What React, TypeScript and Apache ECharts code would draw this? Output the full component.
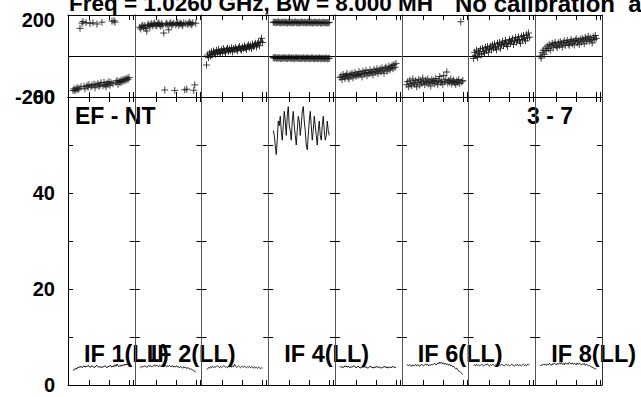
import React, { useEffect, useRef } from 'react';
import * as echarts from 'echarts';

// ---------- data ----------
const CHANNELS = [4, 5, 6, 7, 8, 9, 10, 11, 12, 13, 14, 15, 16, 17, 18, 19, 20, 21, 22, 23, 24, 25, 26, 27, 28, 29, 30, 31, 32, 33, 34, 35, 36, 37, 38, 39, 40, 41, 42, 43, 44, 45, 46, 47, 48, 49, 50, 51, 52, 53, 54, 55, 56, 57, 58, 59, 60];

const X_TICKS = [20, 40, 60, 64];
const PHASE_LABELS = [-200, 200];
const AMP_LABELS = [0, 20, 40, 60];

const PHASE_IF1 = [-168, -160, -170, -162, -155, -165, -158, 135, -150, 160, 168, -148, -160, 163, -145, -152, -140, 158, -150, -143, 162, -138, -155, -140, 156, -135, -148, -142, -130, 165, -145, -128, -140, -150, -132, -138, -125, -143, -130, 170, -135, 172, 165, -128, -120, -138, -124, -130, -118, -126, -115, -122, -112, -118, -108, -114, -105];
const PHASE_IF2 = [140, 132, 145, 150, 138, 148, 135, 122, 150, 155, 143, 152, 158, 147, 155, 160, 150, 148, 157, 162, 153, 145, 158, 150, 112, -166, 155, 160, 152, 128, 157, 162, 150, 155, 160, -168, 152, 158, 163, 150, 157, 160, 155, 148, 162, -165, 158, -162, 153, 160, 165, 157, 152, 162, -167, -141, 160];
const PHASE_IF3 = [-44, 5, -8, 14, 0, 20, 6, 24, 15, 8, 28, 16, 32, 20, 12, 30, 18, 36, 25, 15, 32, 38, 22, 34, 26, 40, 20, 37, 30, 42, 33, 25, 40, 46, 34, 28, 44, 36, 50, 40, 32, 48, 54, 42, 50, 36, 58, 46, 54, 62, 44, 58, 66, 50, 72, 86, 66];
const PHASE_IF4_A = [165, 163, 166, 162, 164, 167, 163, 161, 165, 164, 162, 166, 163, 165, 160, 164, 166, 162, 163, 165, 161, 164, 167, 163, 162, 165, 160, 163, 166, 164, 162, 165, 163, 161, 164, 166, 162, 163, 165, 160, 164, 162, 166, 163, 161, 164, 165, 162, 160, 163, 165, 162, 164, 161, 163, 162, 164];
const PHASE_IF4_B = [-8, -10, -7, -12, -9, -11, -8, -13, -10, -9, -12, -7, -11, -10, -13, -9, -8, -12, -10, -11, -9, -14, -10, -8, -12, -11, -9, -13, -10, -12, -8, -11, -14, -10, -9, -12, -11, -13, -10, -9, -12, -14, -11, -10, -13, -12, -9, -11, -14, -10, -12, -13, -11, -10, -14, -12, -11];
const PHASE_IF5 = [-105, -98, -115, -90, -100, -110, -95, -86, -104, -112, -90, -97, -84, -106, -93, -80, -99, -88, -95, -76, -90, -84, -102, -74, -88, -82, -70, -96, -80, -86, -68, -83, -76, -92, -66, -80, -74, -62, -86, -72, -64, -78, -58, -70, -84, -60, -54, -74, -64, -50, -68, -56, -46, -62, -42, -55, -36];
const PHASE_IF6 = [-140, -125, -150, -118, -135, -145, -112, -130, -138, -120, -150, -128, -115, -142, -122, -133, -108, -126, -140, -118, -130, -112, -136, -124, -146, -116, -128, -120, -135, -110, -125, -140, -118, -100, -130, -122, -138, -95, -126, -115, -78, -132, -120, -128, -112, -136, -124, -118, -130, -140, -122, -128, -115, -134, 167, -126, -120];
const PHASE_IF7 = [-12, 18, 4, 28, -8, 22, 12, 34, 6, 38, 22, 14, 42, 28, 46, 18, 36, 48, 30, 54, 38, 58, 42, 30, 62, 48, 66, 38, 56, 72, 50, 62, 76, 58, 46, 68, 80, 62, 72, 84, 56, 74, 90, 68, 80, 92, 74, 62, 96, 80, 100, 84, 74, 104, 88, 112, 92];
const PHASE_IF8 = [0, -10, 16, 28, 8, 38, 26, 48, 36, 56, 28, 50, 62, 40, 58, 66, 48, 42, 64, 50, 70, 58, 44, 64, 74, 52, 66, 76, 58, 52, 70, 80, 60, 72, 54, 76, 84, 64, 74, 56, 82, 68, 86, 78, 60, 90, 72, 82, 96, 72, 88, 78, 64, 92, 80, 100, 86];

const AMP_IF1 = [3.0, 3.2, 3.4, 3.3, 3.6, 3.5, 3.8, 3.7, 3.9, 3.6, 3.8, 4.0, 3.7, 3.9, 3.8, 4.1, 3.9, 3.7, 3.8, 4.0, 3.9, 3.6, 3.8, 3.9, 4.1, 3.8, 3.7, 3.9, 3.6, 3.8, 3.7, 3.9, 4.0, 3.8, 3.6, 3.9, 3.8, 4.1, 3.9, 3.7, 4.0, 3.8, 4.2, 3.9, 4.4, 4.0, 3.8, 4.1, 3.9, 4.2, 4.0, 4.3, 4.1, 4.4, 4.2, 4.3, 4.2];
const AMP_IF2 = [3.6, 3.8, 3.7, 3.9, 3.8, 4.0, 3.9, 3.7, 3.8, 4.1, 3.9, 4.0, 3.8, 3.9, 4.0, 4.2, 3.9, 4.1, 4.0, 3.8, 4.1, 3.9, 4.0, 4.2, 4.0, 3.9, 4.1, 3.8, 4.0, 3.9, 4.1, 3.8, 3.9, 4.0, 3.7, 3.9, 3.8, 4.0, 3.7, 3.8, 3.6, 3.9, 3.7, 3.5, 3.8, 3.6, 3.7, 3.4, 3.6, 3.5, 3.3, 3.4, 3.2, 3.1, 3.0, 2.8, 2.7];
const AMP_IF3 = [3.2, 3.4, 3.6, 3.5, 3.8, 3.7, 3.9, 3.6, 3.8, 3.7, 3.9, 4.0, 3.8, 3.6, 3.9, 3.7, 3.8, 4.0, 3.9, 3.7, 3.8, 3.6, 3.9, 3.8, 4.0, 3.7, 3.9, 3.8, 4.3, 3.9, 3.7, 3.8, 4.0, 3.8, 3.6, 3.8, 3.9, 3.7, 3.9, 3.8, 3.6, 3.8, 3.7, 3.9, 3.6, 3.8, 3.7, 3.5, 3.8, 3.6, 3.7, 3.5, 3.7, 3.6, 3.4, 3.6, 3.5];
const AMP_IF4 = [53, 52, 50, 48, 51, 55, 54, 56, 53, 51, 54, 57, 55, 52, 56, 58, 54, 53, 51, 55, 57, 54, 52, 50, 53, 56, 55, 52, 54, 57, 58, 55, 53, 50, 49, 52, 55, 57, 54, 51, 53, 56, 54, 52, 50, 53, 55, 52, 51, 54, 56, 53, 51, 52, 55, 53, 52];
const AMP_IF5 = [3.9, 3.7, 3.8, 3.6, 3.9, 3.8, 4.0, 3.7, 3.9, 3.8, 3.6, 3.8, 3.7, 3.9, 4.0, 3.8, 3.6, 3.7, 3.9, 3.8, 3.5, 3.7, 3.8, 3.6, 3.9, 3.7, 3.8, 3.6, 3.5, 3.7, 3.9, 3.8, 3.6, 3.7, 3.5, 3.8, 3.7, 3.9, 3.6, 3.8, 3.7, 3.5, 3.6, 3.8, 3.7, 3.9, 3.6, 3.8, 3.5, 3.7, 3.8, 3.6, 3.7, 3.9, 3.7, 3.6, 3.8];
const AMP_IF6 = [4.1, 4.2, 4.0, 4.2, 4.1, 3.9, 4.2, 4.0, 4.1, 4.3, 4.0, 4.2, 4.1, 3.9, 4.2, 4.3, 4.1, 4.0, 4.2, 4.4, 4.1, 4.3, 4.0, 4.2, 4.1, 4.3, 4.2, 4.4, 4.5, 4.2, 4.3, 4.6, 4.4, 4.8, 4.5, 4.7, 4.4, 4.6, 4.3, 4.5, 4.2, 4.4, 4.1, 4.3, 4.0, 4.1, 3.8, 3.9, 3.6, 3.4, 3.5, 3.1, 2.9, 2.8, 2.6, 2.4, 2.2];
const AMP_IF7 = [4.1, 4.2, 4.0, 4.3, 4.1, 4.2, 4.0, 4.1, 4.3, 4.2, 4.0, 4.1, 4.3, 4.2, 4.4, 4.1, 4.0, 4.2, 4.1, 4.3, 4.2, 4.0, 4.2, 4.1, 4.3, 4.0, 4.2, 4.1, 4.3, 4.2, 4.1, 4.0, 4.2, 4.3, 4.1, 4.2, 4.0, 4.1, 4.3, 4.2, 4.1, 4.0, 4.2, 4.1, 4.3, 4.0, 4.2, 4.1, 4.0, 4.2, 4.3, 4.1, 4.2, 4.0, 4.3, 4.2, 4.4];
const AMP_IF8 = [4.0, 4.2, 4.1, 4.3, 4.2, 4.4, 4.1, 4.3, 4.2, 4.5, 4.3, 4.1, 4.4, 4.3, 4.6, 4.4, 4.2, 4.5, 4.3, 4.6, 4.4, 4.7, 4.3, 4.5, 4.2, 4.6, 4.4, 4.5, 4.3, 4.7, 4.5, 4.4, 4.6, 4.3, 4.5, 4.4, 4.2, 4.6, 4.3, 4.5, 4.4, 4.2, 4.4, 4.3, 4.5, 4.1, 4.3, 4.2, 4.0, 4.1, 3.9, 3.8, 3.7, 3.6, 3.5, 3.4, 3.3];

const PHASES = [PHASE_IF1, PHASE_IF2, PHASE_IF3, PHASE_IF4_A, PHASE_IF5, PHASE_IF6, PHASE_IF7, PHASE_IF8];
const EXTRA_PHASE: Record<number, number[]> = { 3: PHASE_IF4_B };
const AMPS = [AMP_IF1, AMP_IF2, AMP_IF3, AMP_IF4, AMP_IF5, AMP_IF6, AMP_IF7, AMP_IF8];
const IF_LABELS = ['IF 1(LL)', 'IF 2(LL)', '', 'IF 4(LL)', '', 'IF 6(LL)', '', 'IF 8(LL)'];
const TITLE_A = 'Freq = 1.0260 GHz, Bw = 8.000 MH';
const TITLE_B = 'No calibration  applied';
const LEFT_NOTE = 'EF - NT';
const RIGHT_NOTE = '3 - 7';

// ---------- layout ----------
const FONT = "'Liberation Sans', Arial, sans-serif";
const PANEL_LEFT = 68;
const PANEL_W = 66.75;
const TOP_Y = 15;
const TOP_H = 82;
const BOT_H = 288;
const SEP = '#555';
const PLUS = 'path://M4,0L4,8M0,4L8,4';

function pairs(vals: number[]) {
  return vals.map((v, k) => [CHANNELS[k], v]);
}

function buildOption() {
  const n = PHASES.length;
  const grid: any[] = [];
  const xAxis: any[] = [];
  const yAxis: any[] = [];
  const series: any[] = [];

  const xAx = (gridIndex: number, position: string) => ({
    type: 'value', gridIndex, position, min: -1, max: 65.75,
    axisLine: { show: true, onZero: false, lineStyle: { color: '#000', width: 1 } },
    axisTick: { show: true, inside: true, length: 5, customValues: X_TICKS, lineStyle: { color: '#000', width: 1 } },
    axisLabel: { show: false },
    splitLine: { show: false },
  });

  for (let part = 0; part < 2; part++) {
    for (let i = 0; i < n; i++) {
      const g = part * n + i;
      const isTop = part === 0;
      grid.push({
        left: PANEL_LEFT + i * PANEL_W, width: PANEL_W,
        top: isTop ? TOP_Y : TOP_Y + TOP_H, height: isTop ? TOP_H : BOT_H,
        outerBoundsMode: 'none', containLabel: false,
      });
      xAxis.push(xAx(g, 'bottom'));
      xAxis.push(xAx(g, 'top'));
      const first = i === 0;
      const labelStyle = {
        show: first, fontSize: 20, fontWeight: 'bold', color: '#000', fontFamily: FONT, margin: 13,
      };
      if (isTop) {
        yAxis.push({
          type: 'value', gridIndex: g, position: 'left', min: -200, max: 200, interval: 200,
          axisLine: { show: true, onZero: false, lineStyle: { color: first ? '#000' : SEP } },
          axisTick: { show: false },
          axisLabel: {
            ...labelStyle,
            formatter: (v: number) => (PHASE_LABELS.includes(v) ? (v > 0 ? '{t|' + v + '}' : String(v)) : ''),
            rich: { t: { fontSize: 20, fontWeight: 'bold', fontFamily: FONT, color: '#000', padding: [10, 0, 0, 0] } },
          },
          splitLine: { show: true, lineStyle: { color: '#000', width: 1 } },
        });
        yAxis.push({
          type: 'value', gridIndex: g, position: 'right', min: -200, max: 200, interval: 200,
          axisLine: { show: true, onZero: false, lineStyle: { color: i === n - 1 ? '#333' : SEP } },
          axisTick: { show: false }, axisLabel: { show: false }, splitLine: { show: false },
        });
        const groups = [PHASES[i]].concat(EXTRA_PHASE[i] ? [EXTRA_PHASE[i]] : []);
        groups.forEach((vals) => {
          series.push({
            type: 'scatter', xAxisIndex: 2 * g, yAxisIndex: 2 * g,
            symbol: PLUS, symbolSize: 7,
            itemStyle: { color: '#111', borderColor: '#111', borderWidth: 1 },
            data: pairs(vals), silent: true,
          });
        });
      } else {
        const tick = { show: true, inside: true, length: 5, lineStyle: { color: '#000', width: 1 } };
        yAxis.push({
          type: 'value', gridIndex: g, position: 'left', min: 0, max: 60, interval: 10,
          axisLine: { show: true, onZero: false, lineStyle: { color: first ? '#000' : SEP } },
          axisTick: tick,
          axisLabel: {
            ...labelStyle,
            formatter: (v: number) => (AMP_LABELS.includes(v) ? String(v) : ''),
          },
          splitLine: { show: false },
        });
        yAxis.push({
          type: 'value', gridIndex: g, position: 'right', min: 0, max: 60, interval: 10,
          axisLine: { show: true, onZero: false, lineStyle: { color: i === n - 1 ? '#333' : SEP } },
          axisTick: tick, axisLabel: { show: false }, splitLine: { show: false },
        });
        series.push({
          type: 'line', xAxisIndex: 2 * g, yAxisIndex: 2 * g,
          showSymbol: false, symbol: 'none',
          lineStyle: { color: '#000', width: 0.9 },
          data: pairs(AMPS[i]), silent: true,
        });
      }
    }
  }

  const txt = (text: string, x: number, y: number, size: number) => ({
    type: 'text', x, y,
    style: { text, font: `bold ${size}px ${FONT}`, fill: '#000', verticalAlign: 'middle', align: 'left' },
  });
  const graphic: any[] = [
    txt(TITLE_A, 69, 3, 22.5),
    txt(TITLE_B, 455, 3, 24),
    txt(LEFT_NOTE, 75, 116, 23),
    txt(RIGHT_NOTE, 527, 116, 23),
  ];
  IF_LABELS.forEach((lab, i) => {
    if (lab) graphic.push(txt(lab, PANEL_LEFT + i * PANEL_W + 16, 354, 23.5));
  });

  return {
    animation: false,
    backgroundColor: '#fff',
    grid, xAxis, yAxis, series, graphic,
  };
}

export default function App() {
  const ref = useRef<HTMLDivElement>(null);
  useEffect(() => {
    if (!ref.current) return;
    const chart = echarts.init(ref.current, null, { renderer: 'svg' });
    chart.setOption(buildOption() as any);
    return () => chart.dispose();
  }, []);
  return (
    <div
      ref={ref}
      style={{ position: 'fixed', left: 0, top: 0, width: 641, height: 397, background: '#fff', overflow: 'hidden' }}
    />
  );
}
